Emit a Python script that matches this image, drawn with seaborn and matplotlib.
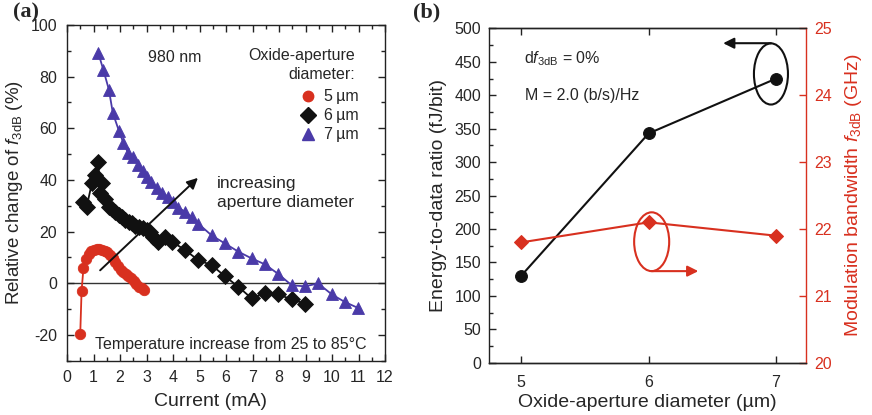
import numpy as np
import pandas as pd
import matplotlib
matplotlib.use("Agg")
import matplotlib.pyplot as plt
from matplotlib.patches import Ellipse
from matplotlib.lines import Line2D
from matplotlib.ticker import MultipleLocator, FormatStrFormatter
import seaborn as sns

# ---- (a) relative change of f3dB vs. current, 25 -> 85 C ----
current_5um = [0.5, 0.55, 0.62, 0.72, 0.82, 0.92, 1.02, 1.12, 1.22, 1.32, 1.42, 1.52,
               1.62, 1.72, 1.82, 1.92, 2.02, 2.12, 2.22, 2.32, 2.42, 2.52, 2.62, 2.72,
               2.82, 2.9]
change_5um = [-19.5, -3.0, 5.8, 9.5, 11.5, 12.3, 13.0, 13.3, 13.2, 12.8, 12.6, 12.2,
              11.0, 9.7, 8.2, 6.8, 5.3, 4.3, 3.7, 2.8, 2.0, 0.8, -0.3, -1.3,
              -2.0, -2.6]

current_6um = [0.62, 0.74, 0.94, 1.06, 1.18, 1.25, 1.31, 1.45, 1.58, 1.7, 1.82, 1.95,
               2.07, 2.2, 2.33, 2.45, 2.58, 2.7, 2.85, 3.0, 3.12, 3.25, 3.45, 3.7,
               3.98, 4.46, 4.96, 5.46, 5.96, 6.47, 6.97, 7.47, 7.97, 8.48, 8.98]
change_6um = [31.6, 29.5, 38.8, 42.0, 47.0, 35.0, 38.8, 32.5, 29.6, 28.6, 27.7, 26.6,
              25.5, 24.5, 23.8, 23.3, 22.3, 21.8, 21.2, 20.6, 20.0, 18.0, 16.0, 17.8,
              16.0, 12.8, 8.9, 7.0, 2.7, -1.4, -5.9, -3.8, -4.3, -6.3, -7.9]

current_7um = [1.18, 1.37, 1.58, 1.73, 1.96, 2.13, 2.31, 2.5, 2.69, 2.87, 3.02, 3.17,
               3.38, 3.6, 3.8, 4.0, 4.2, 4.45, 4.7, 4.96, 5.46, 5.96, 6.47, 6.97,
               7.47, 7.97, 8.48, 8.98, 9.48, 9.99, 10.49, 10.99]
change_7um = [89.2, 82.7, 75.0, 65.9, 59.0, 54.3, 50.4, 49.0, 45.8, 43.5, 41.3, 39.3,
              37.0, 35.0, 33.5, 31.3, 29.3, 27.7, 25.6, 23.0, 18.5, 15.4, 12.2, 9.6,
              7.3, 3.6, -0.8, -1.2, -0.1, -4.3, -7.3, -9.6]

aperture_labels = ["5\u2009\u00b5m", "6\u2009\u00b5m", "7\u2009\u00b5m"]

# ---- (b) energy-to-data ratio and bandwidth vs. aperture diameter ----
diameter_um = [5, 6, 7]
energy_fj_per_bit = [130, 343, 425]
bandwidth_ghz = [21.8, 22.1, 21.9]

RED = "#d8301f"
BLACK = "#111111"
BLUE = "#4a3aa8"

sns.set_style("ticks")
plt.rcParams["font.family"] = ["Liberation Sans", "DejaVu Sans"]
plt.rcParams["mathtext.fontset"] = "custom"
plt.rcParams["mathtext.rm"] = "Liberation Sans"
plt.rcParams["mathtext.it"] = "Liberation Sans:italic"
plt.rcParams["axes.unicode_minus"] = False
plt.rcParams["axes.linewidth"] = 1.0
plt.rcParams["axes.edgecolor"] = "#222222"

FS_TICK = 11.5
FS_LABEL = 14

fig = plt.figure(figsize=(8.72, 4.15), dpi=100)
W, H = 872, 415


def axes_px(left, top, right, bottom):
    return fig.add_axes([left / W, 1 - bottom / H, (right - left) / W, (bottom - top) / H])


# ================= panel (a) =================
ax = axes_px(67, 25, 385, 360.7)

series = [
    (current_5um, change_5um, RED, "o", 7.5),
    (current_6um, change_6um, BLACK, "D", 8.0),
    (current_7um, change_7um, BLUE, "^", 9.0),
]
for xs, ys, col, mk, ms in series:
    df = pd.DataFrame({"current": xs, "change": ys})
    sns.lineplot(data=df, x="current", y="change", ax=ax, color=col, marker=mk,
                 markersize=ms, markeredgecolor=col, markeredgewidth=0.6,
                 linewidth=1.3, sort=False, estimator=None, legend=False)

ax.axhline(0, color="#333333", lw=1.0, zorder=0)
ax.set_xlim(0, 12)
ax.set_ylim(-30, 100)
ax.xaxis.set_major_locator(MultipleLocator(1))
ax.xaxis.set_minor_locator(MultipleLocator(0.5))
ax.yaxis.set_major_locator(MultipleLocator(20))
ax.yaxis.set_minor_locator(MultipleLocator(10))
ax.yaxis.set_major_formatter(FormatStrFormatter("%d"))
ax.tick_params(which="both", direction="in", top=True, right=True, labelsize=FS_TICK,
               color="#222222")
ax.tick_params(which="major", length=5, width=1.0, pad=7)
ax.tick_params(which="minor", length=3, width=1.0)
ax.set_xlabel("Current (mA)", fontsize=FS_LABEL)
ax.set_ylabel(r"Relative change of $f_{\mathrm{3dB}}$ (%)", fontsize=13.5, labelpad=4)
ax.xaxis.set_label_coords((210 - 67) / 318, -0.097)

ax.text(3.07, 87.4, "980 nm", fontsize=FS_TICK, ha="left", va="center")
ax.text(10.87, 88.0, "Oxide-aperture", fontsize=FS_TICK, ha="right", va="center")
ax.text(10.87, 80.8, "diameter:", fontsize=FS_TICK, ha="right", va="center")

handles = [Line2D([], [], color=c, marker=m, linestyle="none", markersize=s,
                  markeredgecolor=c) for _, _, c, m, s in series]
ax.legend(handles, aperture_labels, loc="upper left", bbox_to_anchor=(0.733, 0.808),
          frameon=False, fontsize=FS_TICK, handlelength=1.0, handletextpad=0.5,
          labelspacing=0.25, borderpad=0, borderaxespad=0)

ax.annotate("", xy=(4.94, 40.8), xytext=(1.25, 5.0),
            arrowprops=dict(arrowstyle="-|>", color=BLACK, lw=1.4, mutation_scale=16,
                            shrinkA=0, shrinkB=0))
ax.text(5.66, 38.8, "increasing", fontsize=12.5, ha="left", va="center")
ax.text(5.66, 31.4, "aperture diameter", fontsize=12.5, ha="left", va="center")
ax.text(1.06, -23.9, "Temperature increase from 25 to 85\u00b0C", fontsize=FS_TICK,
        ha="left", va="center")

# ================= panel (b) =================
bx = axes_px(489.3, 28.5, 806, 362.7)
rx = bx.twinx()

df_b = pd.DataFrame({"diameter": diameter_um, "energy": energy_fj_per_bit,
                     "bandwidth": bandwidth_ghz})
sns.lineplot(data=df_b, x="diameter", y="energy", ax=bx, color=BLACK, marker="o",
             markersize=8.5, markeredgecolor=BLACK, linewidth=1.5, legend=False)
sns.lineplot(data=df_b, x="diameter", y="bandwidth", ax=rx, color=RED, marker="D",
             markersize=7.5, markeredgecolor=RED, linewidth=1.5, legend=False)

bx.set_xlim(4.75, 7.235)
bx.set_ylim(0, 500)
rx.set_ylim(20, 25)
bx.set_xticks(diameter_um)
bx.yaxis.set_major_locator(MultipleLocator(50))
bx.yaxis.set_minor_locator(MultipleLocator(25))
rx.yaxis.set_major_locator(MultipleLocator(1))
bx.tick_params(which="both", direction="in", top=True, right=False, labelsize=FS_TICK,
               color="#222222")
bx.tick_params(which="major", length=5, width=1.0, pad=6)
bx.tick_params(axis="x", which="major", pad=9)
bx.tick_params(which="minor", length=3, width=1.0)
rx.tick_params(which="both", direction="in", colors=RED, labelsize=FS_TICK, length=5,
               width=1.0, pad=6)
rx.spines["right"].set_color(RED)
rx.spines["left"].set_visible(False)
bx.spines["right"].set_visible(False)

bx.set_xlabel("Oxide-aperture diameter (\u00b5m)", fontsize=FS_LABEL, labelpad=3)
bx.set_ylabel("Energy-to-data ratio (fJ/bit)", fontsize=FS_LABEL, labelpad=5)
rx.set_ylabel(r"Modulation bandwidth $f_{\mathrm{3dB}}$ (GHz)", fontsize=FS_LABEL,
              color=RED, labelpad=8)

bx.text(5.02, 455, r"d$f_{\mathrm{3dB}}$ = 0%", fontsize=FS_TICK, ha="left", va="center")
bx.text(5.03, 400, "M = 2.0 (b/s)/Hz", fontsize=FS_TICK, ha="left", va="center")

# ellipses marking which curve belongs to which axis
bx.add_patch(Ellipse((6.96, 432), 0.267, 91.5, fill=False, ec=BLACK, lw=1.5))
bx.annotate("", xy=(6.585, 478), xytext=(6.96, 478),
            arrowprops=dict(arrowstyle="-|>", color=BLACK, lw=1.5, mutation_scale=16,
                            shrinkA=0, shrinkB=0))
rx.add_patch(Ellipse((6.024, 21.81), 0.275, 0.88, fill=False, ec=RED, lw=1.5))
rx.annotate("", xy=(6.39, 21.37), xytext=(6.024, 21.37),
            arrowprops=dict(arrowstyle="-|>", color=RED, lw=1.5, mutation_scale=16,
                            shrinkA=0, shrinkB=0))

# panel letters
fig.text(26 / W, 1 - 12 / H, "(a)", fontsize=16, fontweight="bold",
         family="Liberation Serif", ha="center", va="center")
fig.text(427 / W, 1 - 12 / H, "(b)", fontsize=16, fontweight="bold",
         family="Liberation Serif", ha="center", va="center")

fig.savefig("out.png", dpi=100)
